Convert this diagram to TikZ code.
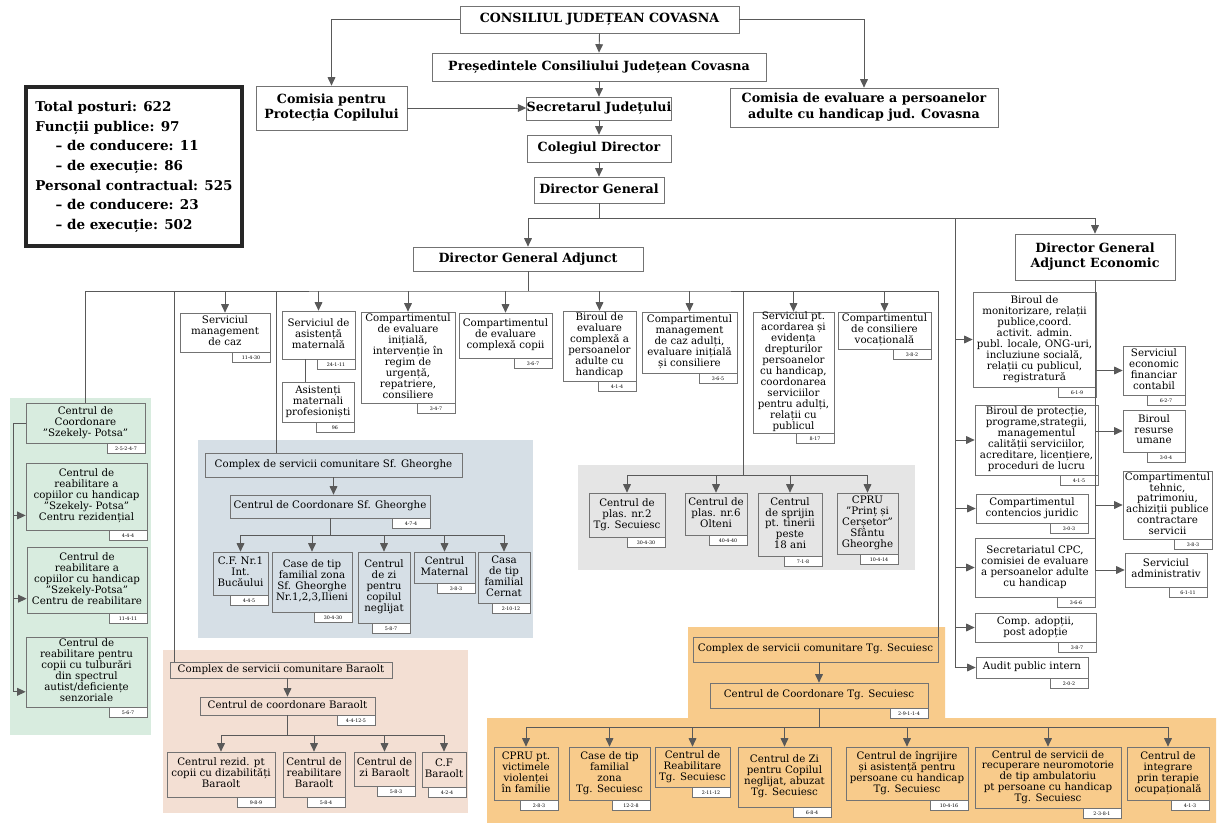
\documentclass[tikz,border=0pt]{standalone}
\usepackage{fontspec}
\setmainfont{DejaVu Serif}
\usetikzlibrary{calc,arrows.meta}

\definecolor{mint}{HTML}{D8ECDF}
\definecolor{steel}{HTML}{D6DFE6}
\definecolor{ash}{HTML}{E5E5E5}
\definecolor{peach}{HTML}{F3DFD3}
\definecolor{amber}{HTML}{F8CB8B}

\newcommand{\unitrows}[1]{\begin{tabular}{@{}c@{}}#1\end{tabular}}

\tikzset{
	span/.style n args={4}{at={({(#1+#3)/2},{(#2+#4)/2})}, minimum width={(#3-#1)*0.025cm}, minimum height={(#4-#2)*0.025cm}},
	unit/.style={draw=black!55, line width=0.5pt, inner sep=0pt, font=\fontsize{7.3}{7.6}\selectfont},
	lead/.style={unit, font=\bfseries\fontsize{9}{11}\selectfont},
	tag/.style={draw=black!55, line width=0.5pt, fill=white, inner sep=0.6pt, anchor=north east, minimum width=0.95cm, minimum height=0.23cm, font=\fontsize{3.4}{4}\selectfont},
	link/.style={draw=black!65, line width=0.65pt},
	arr/.style={link, -{Triangle[length=6pt,width=5.5pt]}},
}

\begin{document}
\begin{tikzpicture}[x=0.025cm, y=-0.025cm]
\useasboundingbox (0,0) rectangle (1219,823);

% fonduri
\fill[mint] (10,398) rectangle (151,735);
\fill[steel] (198,440) rectangle (533,638);
\fill[ash] (578,465) rectangle (915,570);
\fill[peach] (163,650) rectangle (468,813);
\fill[amber] (688,627) rectangle (945,720) (487,718) rectangle (1216,823);

% conducere
\node[lead, span={460}{6}{739}{33}] (cj) {\unitrows{CONSILIUL JUDEȚEAN COVASNA}};
\node[lead, span={432}{53}{766}{81}] (pres) {\unitrows{Președintele Consiliului Județean Covasna}};
\node[lead, span={256}{86}{407}{130}] (cpc) {\unitrows{Comisia pentru\\Protecția Copilului}};
\node[lead, span={528}{97}{670}{120}] (sec) {\unitrows{Secretarul Județului}};
\node[lead, span={730}{88}{998}{127}] (ceph) {\unitrows{Comisia de evaluare a persoanelor\\adulte cu handicap jud. Covasna}};
\node[lead, span={527}{135}{671}{162}] (col) {\unitrows{Colegiul Director}};
\node[lead, span={534}{177}{664}{203}] (dg) {\unitrows{Director General}};
\node[lead, span={413}{247}{643}{271}] (dga) {\unitrows{Director General Adjunct}};
\node[lead, span={1015}{234}{1175}{280}] (dgae) {\unitrows{Director General\\Adjunct Economic}};
\node[draw=black!85, line width=2.2pt, inner sep=0pt, span={26}{87}{242}{246}, font=\bfseries\fontsize{9.6}{14}\selectfont] (tot)
	{\begin{tabular}{@{}l@{}}Total posturi: 622\\Funcții publice: 97\\\hspace*{1.5em}– de conducere: 11\\\hspace*{1.5em}– de execuție: 86\\Personal contractual: 525\\\hspace*{1.5em}– de conducere: 23\\\hspace*{1.5em}– de execuție: 502\end{tabular}};

% servicii sub DGA
\node[unit, span={180}{313}{270}{352}] (smc) {\unitrows{Serviciul\\management\\de caz}};
\node[unit, span={282}{311}{355}{359}] (sam) {\unitrows{Serviciul de\\asistență\\maternală}};
\node[unit, span={282}{382}{354}{422}] (amp) {\unitrows{Asistenți\\maternali\\profesioniști}};
\node[unit, span={361}{312}{455}{403}] (cei) {\unitrows{Compartimentul\\de evaluare\\inițială,\\intervenție în\\regim de\\urgență,\\repatriere,\\consiliere}};
\node[unit, span={459}{313}{552}{358}] (cec) {\unitrows{Compartimentul\\de evaluare\\complexă copii}};
\node[unit, span={563}{311}{636}{381}] (bec) {\unitrows{Biroul de\\evaluare\\complexă a\\persoanelor\\adulte cu\\handicap}};
\node[unit, span={642}{312}{737}{373}] (cma) {\unitrows{Compartimentul\\management\\de caz adulți,\\evaluare inițială\\și consiliere}};
\node[unit, span={753}{312}{834}{433}] (sad) {\unitrows{Serviciul pt.\\acordarea și\\evidența\\drepturilor\\persoanelor\\cu handicap,\\coordonarea\\serviciilor\\pentru adulți,\\relații cu\\publicul}};
\node[unit, span={838}{312}{931}{349}] (ccv) {\unitrows{Compartimentul\\de consiliere\\vocațională}};

% servicii sub DGA economic
\node[unit, span={973}{292}{1096}{387}] (bmr) {\unitrows{Biroul de\\monitorizare, relații\\publice,coord.\\activit. admin.\\publ. locale, ONG-uri,\\incluziune socială,\\relații cu publicul,\\registratură}};
\node[unit, span={975}{405}{1098}{475}] (bpp) {\unitrows{Biroul de protecție,\\programe,strategii,\\managementul\\calității serviciilor,\\acreditare, licențiere,\\proceduri de lucru}};
\node[unit, span={976}{494}{1088}{523}] (ccj) {\unitrows{Compartimentul\\contencios juridic}};
\node[unit, span={975}{538}{1095}{597}] (scpc) {\unitrows{Secretariatul CPC,\\comisiei de evaluare\\a persoanelor adulte\\cu handicap}};
\node[unit, span={975}{613}{1096}{642}] (cad) {\unitrows{Comp. adopții,\\post adopție}};
\node[unit, span={976}{657}{1088}{678}] (api) {\unitrows{Audit public intern}};
\node[unit, span={1123}{346}{1185}{395}] (sef) {\unitrows{Serviciul\\economic\\financiar\\contabil}};
\node[unit, span={1123}{410}{1185}{452}] (bru) {\unitrows{Biroul\\resurse\\umane}};
\node[unit, span={1123}{471}{1212}{539}] (cth) {\unitrows{Compartimentul\\tehnic,\\patrimoniu,\\achiziții publice\\contractare\\servicii}};
\node[unit, span={1125}{553}{1207}{587}] (sadm) {\unitrows{Serviciul\\administrativ}};

% Szekely-Potsa
\node[unit, span={26}{403}{145}{443}] (gcc) {\unitrows{Centrul de\\Coordonare\\"Szekely- Potsa"}};
\node[unit, span={26}{463}{147}{530}] (gr1) {\unitrows{Centrul de\\reabilitare a\\copiilor cu handicap\\"Szekely- Potsa"\\Centru rezidențial}};
\node[unit, span={27}{547}{147}{613}] (gr2) {\unitrows{Centrul de\\reabilitare a\\copiilor cu handicap\\"Szekely-Potsa"\\Centru de reabilitare}};
\node[unit, span={26}{637}{147}{707}] (gr3) {\unitrows{Centrul de\\reabilitare pentru\\copii cu tulburări\\din spectrul\\autist/deficiențe\\senzoriale}};

% Sf. Gheorghe
\node[unit, span={205}{453}{462}{477}] (csg) {\unitrows{Complex de servicii comunitare Sf. Gheorghe}};
\node[unit, span={230}{495}{430}{518}] (csgc) {\unitrows{Centrul de Coordonare Sf. Gheorghe}};
\node[unit, span={213}{552}{268}{595}] (cf1) {\unitrows{C.F. Nr.1\\Int.\\Bucăului}};
\node[unit, span={272}{552}{352}{612}] (ctf) {\unitrows{Case de tip\\familial zona\\Sf. Gheorghe\\Nr.1,2,3,Ilieni}};
\node[unit, span={358}{552}{410}{623}] (czs) {\unitrows{Centrul\\de zi\\pentru\\copilul\\neglijat}};
\node[unit, span={414}{552}{475}{583}] (cmat) {\unitrows{Centrul\\Maternal}};
\node[unit, span={478}{552}{530}{603}] (ccern) {\unitrows{Casa\\de tip\\familial\\Cernat}};

% plasament
\node[unit, span={589}{493}{665}{537}] (pl2) {\unitrows{Centrul de\\plas. nr.2\\Tg. Secuiesc}};
\node[unit, span={685}{493}{747}{535}] (pl6) {\unitrows{Centrul de\\plas. nr.6\\Olteni}};
\node[unit, span={758}{493}{822}{556}] (csp) {\unitrows{Centrul\\de sprijin\\pt. tinerii\\peste\\18 ani}};
\node[unit, span={837}{493}{898}{554}] (cpru) {\unitrows{CPRU\\"Prinț și\\Cerșetor"\\Sfântu\\Gheorghe}};

% Baraolt
\node[unit, span={170}{662}{392}{678}] (cba) {\unitrows{Complex de servicii comunitare Baraolt}};
\node[unit, span={200}{697}{375}{715}] (cbac) {\unitrows{Centrul de coordonare Baraolt}};
\node[unit, span={167}{752}{275}{797}] (bz1) {\unitrows{Centrul rezid. pt\\copii cu dizabilități\\Baraolt}};
\node[unit, span={283}{752}{345}{797}] (bz2) {\unitrows{Centrul de\\reabilitare\\Baraolt}};
\node[unit, span={354}{752}{415}{786}] (bz3) {\unitrows{Centrul de\\zi Baraolt}};
\node[unit, span={422}{752}{466}{787}] (bz4) {\unitrows{C.F\\Baraolt}};

% Tg. Secuiesc
\node[unit, span={693}{637}{938}{662}] (tsc) {\unitrows{Complex de servicii comunitare Tg. Secuiesc}};
\node[unit, span={710}{683}{928}{708}] (tscc) {\unitrows{Centrul de Coordonare Tg. Secuiesc}};
\node[unit, span={494}{747}{558}{800}] (t1) {\unitrows{CPRU pt.\\victimele\\violenței\\în familie}};
\node[unit, span={569}{747}{650}{800}] (t2) {\unitrows{Case de tip\\familial\\zona\\Tg. Secuiesc}};
\node[unit, span={655}{747}{730}{787}] (t3) {\unitrows{Centrul de\\Reabilitare\\Tg. Secuiesc}};
\node[unit, span={738}{747}{831}{807}] (t4) {\unitrows{Centrul de Zi\\pentru Copilul\\neglijat, abuzat\\Tg. Secuiesc}};
\node[unit, span={846}{747}{968}{800}] (t5) {\unitrows{Centrul de îngrijire\\și asistență pentru\\persoane cu handicap\\Tg. Secuiesc}};
\node[unit, span={975}{747}{1121}{808}] (t6) {\unitrows{Centrul de servicii de\\recuperare neuromotorie\\de tip ambulatoriu\\pt persoane cu handicap\\Tg. Secuiesc}};
\node[unit, span={1127}{747}{1209}{800}] (t7) {\unitrows{Centrul de\\integrare\\prin terapie\\ocupațională}};

% etichete posturi
\foreach \n/\t in {smc/11-4-30, sam/24-1-11, amp/96, cei/3-4-7, cec/3-6-7, bec/4-1-4, cma/3-6-5, sad/8-17, ccv/3-8-2,
	bmr/6-1-9, bpp/4-1-5, ccj/3-0-3, scpc/3-6-6, cad/3-8-7, api/2-0-2, sef/6-2-7, bru/3-0-4, cth/3-8-3, sadm/6-1-11,
	gcc/2-5-2-4-7, gr1/4-4-4, gr2/11-4-11, gr3/5-6-7, csgc/4-7-4, cf1/4-4-5, ctf/30-4-30, czs/5-8-7, cmat/3-8-3, ccern/2-10-12,
	pl2/30-4-30, pl6/40-4-40, csp/7-1-8, cpru/10-4-14, cbac/4-4-12-5, bz1/9-8-9, bz2/5-8-4, bz3/5-8-3, bz4/4-2-4,
	tscc/2-9-1-1-4, t1/2-8-3, t2/12-2-8, t3/2-11-12, t4/6-8-4, t5/10-4-16, t6/2-3-8-1, t7/4-1-3}{
	\node[tag] (\n-t) at (\n.south east) {\t};
}

% legaturi sus
\foreach \a/\b in {cj/pres, pres/sec, sec/col, col/dg}
	\draw[arr] (\a.south) -- (\b.north);
\draw[arr] (cj.west) -| (cpc.north);
\draw[arr] (cj.east) -| (ceph.north);
\draw[arr] (cpc.east) -- (cpc.east -| sec.west);
\coordinate (b1) at (599,218);
\draw[link] (dg.south) -- (b1);
\draw[arr] (b1) -| (dga.north);
\draw[arr] (b1) -| (dgae.north);

% DGA economic
\coordinate (rv) at (955,218);
\draw[link] (rv) -- (rv |- api.west);
\foreach \n in {bmr,bpp,ccj,scpc,cad,api}
	\draw[arr] (rv |- \n.west) -- (\n.west);
\draw[link] (dgae.south) -- (dgae.south |- sadm.west);
\foreach \n in {sef,bru,cth,sadm}
	\draw[arr] (dgae.south |- \n.west) -- (\n.west);

% DGA
\coordinate (b2) at (528,291);
\draw[link] (dga.south) -- (b2);
\draw[link] (gcc.north) |- (b2) -| (tsc.north east);
\foreach \n in {smc,sam,cei,cec,bec,cma,sad,ccv}
	\draw[arr] (\n.north |- b2) -- (\n.north);
\coordinate (csgIn) at (276,453);
\coordinate (cbaIn) at (174,662);
\coordinate (gbus) at (743,475);
\draw[link] (b2 -| csgIn) -- (csgIn);
\draw[link] (b2 -| cbaIn) -- (cbaIn);
\draw[link] (b2 -| gbus) -- (gbus);
\draw[link] ($(sam.south)!0.35!(sam.south west)$) coordinate (samOut) -- (samOut |- amp.north);

% plasament
\draw[link] (pl2.north |- gbus) -- (cpru.north |- gbus);
\foreach \n in {pl2,pl6,csp,cpru}
	\draw[arr] (\n.north |- gbus) -- (\n.north);

% Szekely-Potsa
\coordinate (gv) at (13,423);
\foreach \n in {gr1,gr2,gr3}
	\coordinate (\n-in) at ($(\n.south west)!0.22!(\n.north west)$);
\draw[link] (gcc.west) -- (gcc.west -| gv) -- (gv |- gr3-in);
\foreach \n in {gr1,gr2,gr3}
	\draw[arr] (gv |- \n-in) -- (\n-in);

% Sf. Gheorghe
\draw[arr] (csg.south) -- (csg.south |- csgc.north);
\path (csgc.south) ++(0,17) coordinate (sbus);
\draw[link] (csgc.south) -- (sbus);
\draw[link] (cf1.north |- sbus) -- (ccern.north |- sbus);
\foreach \n in {cf1,ctf,czs,cmat,ccern}
	\draw[arr] (\n.north |- sbus) -- (\n.north);

% Baraolt
\draw[arr] (cbac.north |- cba.south) -- (cbac.north);
\path (cbac.south) ++(0,20) coordinate (pbus);
\draw[link] (cbac.south) -- (pbus);
\draw[link] (bz1.north |- pbus) -- (bz4.north |- pbus);
\foreach \n in {bz1,bz2,bz3,bz4}
	\draw[arr] (\n.north |- pbus) -- (\n.north);

% Tg. Secuiesc
\draw[arr] (tscc.north |- tsc.south) -- (tscc.north);
\path (tscc.south) ++(0,19) coordinate (obus);
\draw[link] (tscc.south) -- (obus);
\draw[link] (t1.north |- obus) -- (t7.north |- obus);
\foreach \n in {t1,t2,t3,t4,t5,t6,t7}
	\draw[arr] (\n.north |- obus) -- (\n.north);
\end{tikzpicture}
\end{document}
